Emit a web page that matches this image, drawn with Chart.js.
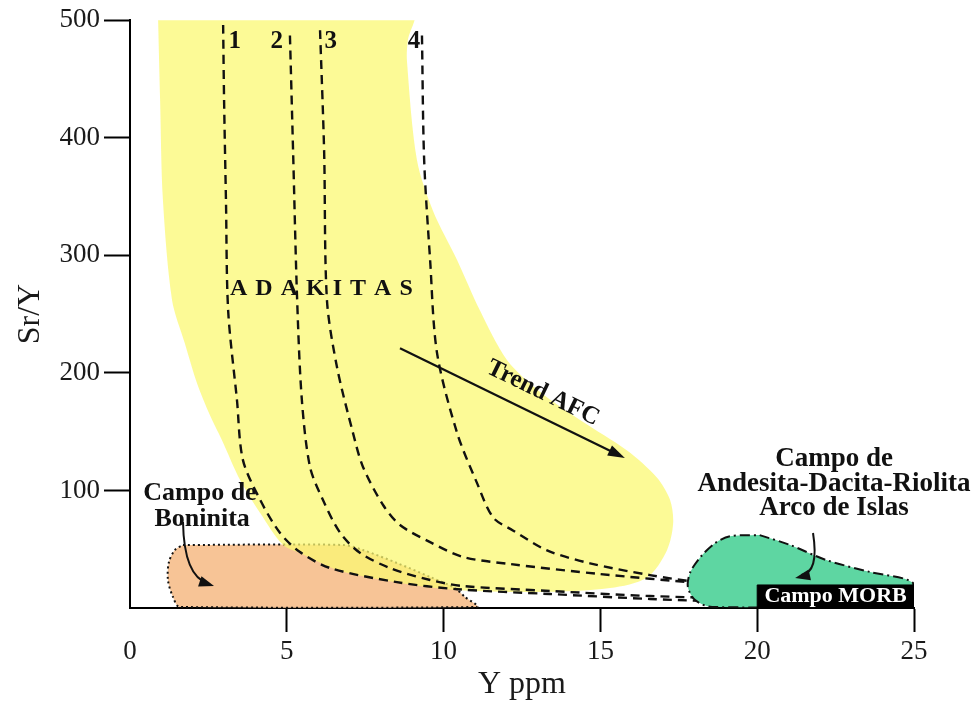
<!DOCTYPE html>
<html>
<head>
<meta charset="utf-8">
<script src="https://cdn.jsdelivr.net/npm/chart.js@4.4.1/dist/chart.umd.min.js"></script>
<style>
  html, body { margin: 0; padding: 0; background: #fff; }
  #wrap { width: 978px; height: 706px; }
</style>
</head>
<body>
<div id="wrap"><canvas id="chart" width="978" height="706"></canvas></div>
<script>
const xTicks = [0, 5, 10, 15, 20, 25];
const yTicks = [100, 200, 300, 400, 500];

// Adakitas field outline (Y ppm, Sr/Y)
const adakitaX = [0.89, 9.02, 8.86, 8.83, 9.15, 9.66, 10.43, 11.16, 12.02, 13.07, 14.35, 15.85, 16.80, 17.22, 17.32, 17.12, 16.49, 15.31, 13.07, 10.43, 8.61, 6.70, 5.42, 4.88, 4.15, 3.51, 2.93, 2.55, 2.14, 1.75, 1.34, 1.05, 0.96, 0.89];
const adakitaY = [507, 507, 483, 466, 381, 338, 296, 253, 211, 184, 160, 134, 111, 92, 72, 49, 26, 17, 13.6, 15.3, 21.3, 31.6, 46.8, 53.6, 80.8, 108.8, 142.9, 164, 191, 225, 262, 347, 432, 507];

// Campo de Boninita
const boninitaX = [1.69, 6.79, 7.43, 8.51, 9.57, 10.36, 10.68, 11.07, 1.59, 1.37, 1.21, 1.24, 1.43, 1.69];
const boninitaY = [53.6, 53.6, 49.3, 38.3, 26.4, 17, 9.4, 0.85, 0.85, 9.4, 23.8, 39, 49.3, 53.6];

// Campo de Andesita-Dacita-Riolita, Arco de Islas
const arcoX = [20.08, 21.05, 22.2, 23.6, 24.97, 24.97, 18.56, 18.02, 17.79, 17.86, 18.18, 18.65, 19.13, 20.08];
const arcoY = [62, 53.6, 40.8, 30.6, 21.3, 0.85, 0.85, 6.8, 17.9, 30, 43, 55, 61, 62];

// Campo MORB
const morbX = [20, 20, 25, 25, 20];
const morbY = [0, 19.6, 19.6, 0, 0];

// dashed curves 1-4
const line1X = [2.97, 3.00, 3.06, 3.13, 3.41, 3.60, 4.15, 4.78, 5.42, 6.38, 8.51, 10.43, 13.39, 16.58, 20.08];
const line1Y = [496, 432, 347, 253, 177, 126, 92, 64, 47.6, 34, 22, 16, 11.9, 7.7, 4.3];
const line2X = [5.10, 5.20, 5.33, 5.48, 5.74, 6.15, 6.70, 7.33, 8.29, 9.57, 10.62, 13.39, 16.58, 20.08];
const line2Y = [487, 389, 262, 177, 120, 92, 64, 47, 34, 23.8, 18.7, 14.5, 10.2, 7.7];
const line3X = [6.06, 6.19, 6.28, 6.60, 7.11, 7.43, 8.07, 8.61, 9.57, 10.62, 12.12, 14.99, 18.18, 20.08];
const line3Y = [491.5, 389, 262, 205, 149, 120, 87.6, 70.6, 56, 43.4, 37.4, 28.9, 21.3, 18.7];
const line4X = [9.31, 9.38, 9.57, 9.79, 10.43, 11.07, 11.58, 12.21, 13.30, 14.67, 16.58, 18.18, 20.08];
const line4Y = [487, 381, 296, 217, 149, 106, 77, 66, 49, 38, 28, 22, 20.4];
const lineNames = ['1', '2', '3', '4'];

const serif = "'Liberation Serif', 'Times New Roman', serif";

function pts(xs, ys) {
    return xs.map((v, i) => ({ x: v, y: ys[i] }));
}

function dashed(xs, ys) {
    return {
        data: pts(xs, ys),
        borderColor: '#111',
        borderWidth: 2.4,
        borderDash: [9, 6],
        fill: false,
        tension: 0.3,
        order: 5
    };
}

function arrowHead(ctx, x0, y0, x1, y1, len, w) {
    const a = Math.atan2(y1 - y0, x1 - x0);
    const c = Math.cos(a), s = Math.sin(a);
    ctx.beginPath();
    ctx.moveTo(x1, y1);
    ctx.lineTo(x1 - len * c + w / 2 * s, y1 - len * s - w / 2 * c);
    ctx.lineTo(x1 - len * c - w / 2 * s, y1 - len * s + w / 2 * c);
    ctx.closePath();
    ctx.fill();
}

const annotations = {
    id: 'annotations',
    afterDatasetsDraw(chart) {
        const { ctx, scales: { x, y } } = chart;
        const px = v => x.getPixelForValue(v);
        const py = v => y.getPixelForValue(v);
        ctx.save();
        ctx.fillStyle = '#111';
        ctx.strokeStyle = '#111';
        ctx.textAlign = 'center';
        ctx.textBaseline = 'middle';

        // curve numbers
        ctx.font = 'bold 25px ' + serif;
        const numX = [3.34, 4.68, 6.40, 9.06];
        lineNames.forEach((n, i) => ctx.fillText(n, px(numX[i]), py(481.5)));

        // ADAKITAS, letter spaced
        ctx.font = 'bold 24px ' + serif;
        ctx.textAlign = 'left';
        let cx = px(3.19);
        for (const ch of 'ADAKITAS') {
            ctx.fillText(ch, cx, py(271.3));
            cx += ctx.measureText(ch).width + 8;
        }
        ctx.textAlign = 'center';

        // Trend AFC arrow
        const ax0 = px(8.61), ay0 = py(221), ax1 = px(15.78), ay1 = py(127.6);
        const ang = Math.atan2(ay1 - ay0, ax1 - ax0);
        ctx.lineWidth = 2.2;
        ctx.beginPath();
        ctx.moveTo(ax0, ay0);
        ctx.lineTo(ax1 - 8 * Math.cos(ang), ay1 - 8 * Math.sin(ang));
        ctx.stroke();
        arrowHead(ctx, ax0, ay0, ax1, ay1, 17, 11);
        ctx.save();
        ctx.translate(px(13.17), py(182.8));
        ctx.rotate(ang);
        ctx.font = 'bold 25px ' + serif;
        ctx.fillText('Trend AFC', 0, 0);
        ctx.restore();

        // Campo de Boninita
        ctx.font = 'bold 26px ' + serif;
        ctx.fillText('Campo de', px(2.23), py(97.8));
        ctx.fillText('Boninita', px(2.30), py(75.7));
        const bx0 = px(1.69), by0 = py(73.1), bcx = px(1.72), bcy = py(27), bx1 = px(2.68), by1 = py(18.7);
        ctx.lineWidth = 2;
        ctx.beginPath();
        ctx.moveTo(bx0, by0);
        ctx.quadraticCurveTo(bcx, bcy, bx1 - 6, by1 - 2.5);
        ctx.stroke();
        arrowHead(ctx, bcx, bcy, bx1, by1, 15, 11);

        // Campo de Andesita-Dacita-Riolita
        ctx.font = 'bold 27px ' + serif;
        ctx.fillText('Campo de', px(22.45), py(126.7));
        ctx.fillText('Andesita-Dacita-Riolita', px(22.45), py(105.4));
        ctx.fillText('Arco de Islas', px(22.45), py(85.0));
        const gx0 = px(21.78), gy0 = py(63.8), gcx = px(21.98), gcy = py(30), gx1 = px(21.21), gy1 = py(25.5);
        ctx.beginPath();
        ctx.moveTo(gx0, gy0);
        ctx.quadraticCurveTo(gcx, gcy, gx1 + 6, gy1 - 3);
        ctx.stroke();
        arrowHead(ctx, gcx, gcy, gx1, gy1, 15, 11);

        // Campo MORB
        ctx.fillStyle = '#fff';
        ctx.font = 'bold 22px ' + serif;
        ctx.fillText('Campo MORB', px(22.5), py(9.6));
        ctx.restore();
    }
};

new Chart(document.getElementById('chart'), {
    type: 'line',
    data: {
        datasets: [
            {
                data: pts(boninitaX, boninitaY),
                backgroundColor: 'rgb(247, 196, 150)',
                borderColor: '#111',
                borderWidth: 2,
                borderDash: [2, 3],
                fill: 'shape',
                tension: 0.3,
                order: 10
            },
            {
                data: pts(adakitaX, adakitaY),
                backgroundColor: 'rgba(251, 248, 115, 0.75)',
                borderWidth: 0,
                borderColor: 'rgba(0,0,0,0)',
                fill: 'shape',
                tension: 0.3,
                order: 9
            },
            dashed(line1X, line1Y),
            dashed(line2X, line2Y),
            dashed(line3X, line3Y),
            dashed(line4X, line4Y),
            {
                data: pts(arcoX, arcoY),
                backgroundColor: 'rgb(94, 214, 162)',
                borderColor: '#111',
                borderWidth: 2,
                borderDash: [10, 4, 2, 4],
                fill: 'shape',
                tension: 0.3,
                order: 3
            },
            {
                data: pts(morbX, morbY),
                backgroundColor: '#000',
                borderColor: '#000',
                borderWidth: 1,
                fill: 'shape',
                tension: 0,
                order: 1
            }
        ]
    },
    options: {
        responsive: false,
        animation: false,
        layout: { padding: { top: 20, right: 64, left: 0, bottom: 0 } },
        elements: { point: { radius: 0, hoverRadius: 0 } },
        plugins: { legend: { display: false }, tooltip: { enabled: false } },
        scales: {
            x: {
                type: 'linear',
                min: 0,
                max: 25,
                afterBuildTicks: scale => { scale.ticks = xTicks.map(v => ({ value: v })); },
                afterFit: scale => { scale.height = 98; },
                grid: {
                    drawOnChartArea: false,
                    tickLength: 24,
                    tickWidth: 2,
                    tickColor: c => c.tick && c.tick.value === 0 ? 'rgba(0,0,0,0)' : '#000'
                },
                border: { display: true, color: '#000', width: 2 },
                ticks: {
                    padding: 4,
                    color: '#1a1a1a',
                    font: { family: serif, size: 27 },
                    maxRotation: 0
                },
                title: {
                    display: true,
                    text: 'Y ppm',
                    color: '#1a1a1a',
                    font: { family: serif, size: 32 },
                    padding: { top: 0, bottom: 2 }
                }
            },
            y: {
                type: 'linear',
                min: 0,
                max: 500,
                afterBuildTicks: scale => { scale.ticks = yTicks.map(v => ({ value: v })); },
                afterFit: scale => { scale.width = 130; },
                grid: {
                    drawOnChartArea: false,
                    tickLength: 26,
                    tickWidth: 2,
                    tickColor: '#000'
                },
                border: { display: true, color: '#000', width: 2 },
                ticks: {
                    padding: 4,
                    color: '#1a1a1a',
                    font: { family: serif, size: 27 }
                },
                title: {
                    display: true,
                    text: 'Sr/Y',
                    color: '#1a1a1a',
                    font: { family: serif, size: 32 },
                    padding: { top: 11, bottom: 0 }
                }
            }
        }
    },
    plugins: [annotations]
});
</script>
</body>
</html>
